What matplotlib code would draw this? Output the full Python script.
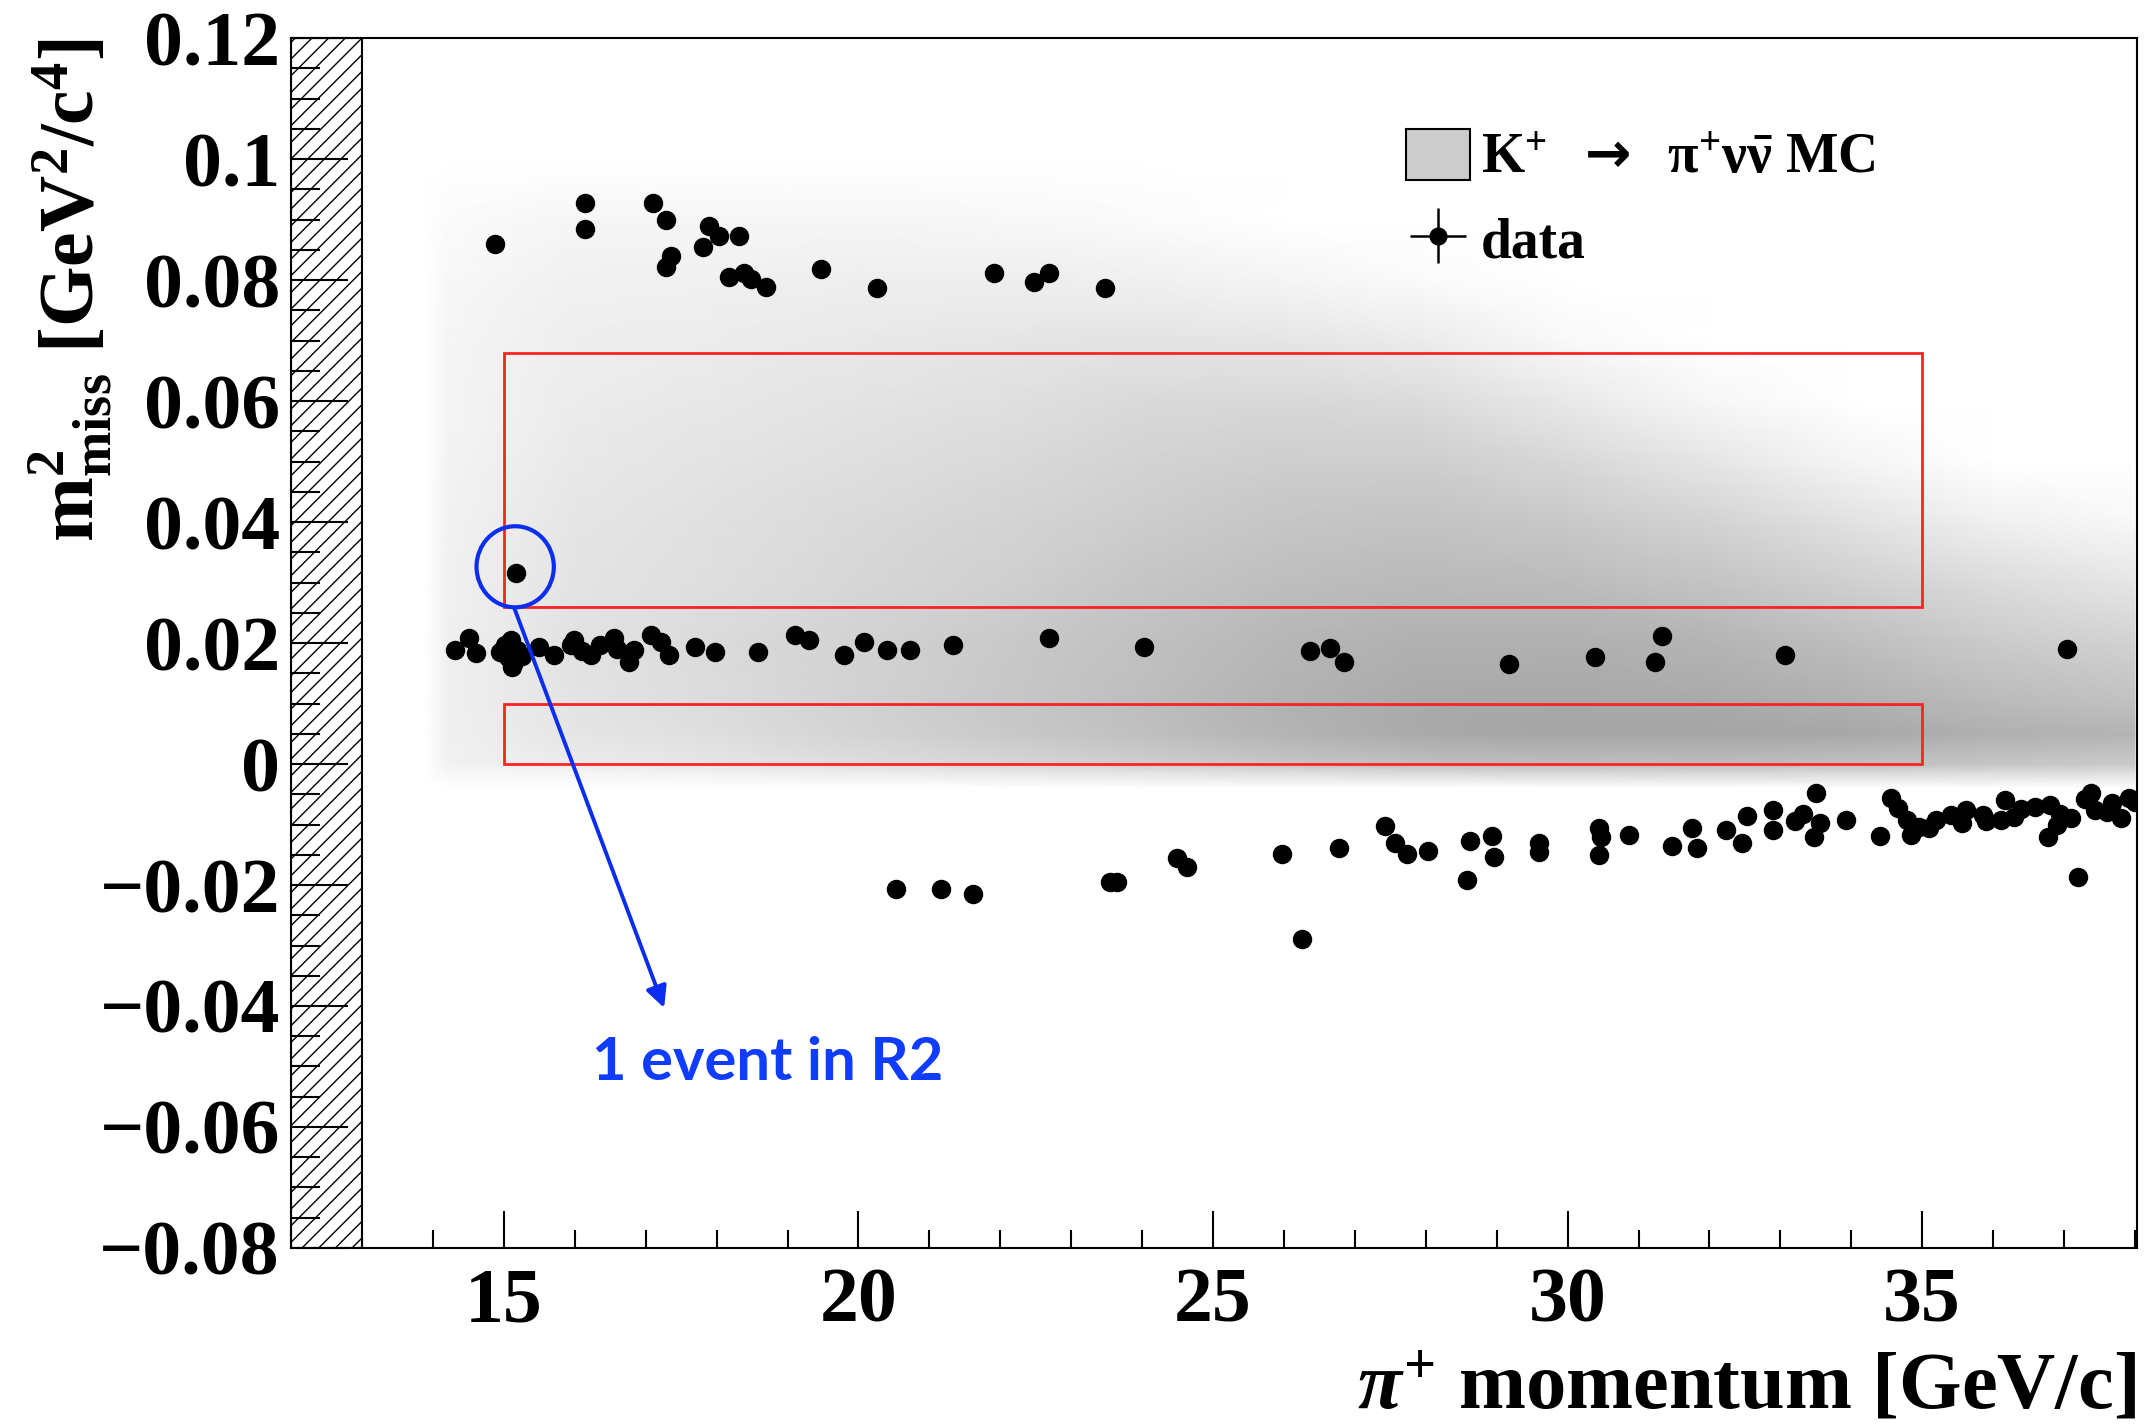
import numpy as np
import matplotlib.pyplot as plt
from matplotlib.patches import Rectangle, Ellipse, Patch
from matplotlib.ticker import MultipleLocator

plt.rcParams['font.family'] = ['Liberation Serif', 'DejaVu Sans']
plt.rcParams['font.weight'] = 'bold'
plt.rcParams['mathtext.fontset'] = 'custom'
plt.rcParams['mathtext.rm'] = 'Liberation Serif:bold'
plt.rcParams['mathtext.it'] = 'Liberation Serif:italic:bold'
plt.rcParams['mathtext.bf'] = 'Liberation Serif:bold'
plt.rcParams['mathtext.sf'] = 'DejaVu Sans'
plt.rcParams['hatch.linewidth'] = 1.0

# ---- MC (K+ -> pi+ nu nubar) grey level (255 = white)
mc_p = [13.9, 14.2, 16, 18, 20, 22, 24, 26, 28, 30, 32, 34, 36, 38]
mc_m2 = [-0.004, -0.001, 0.0, 0.005, 0.01, 0.02, 0.03, 0.04, 0.05, 0.06,
         0.07, 0.08, 0.09, 0.1]
mc_grey = [
    [255, 255, 255, 255, 255, 255, 255, 255, 255, 255, 255, 255, 255, 255],
    [255, 246, 243, 238, 233, 228, 223, 216, 210, 208, 208, 210, 213, 216],
    [255, 242, 236, 230, 222, 215, 207, 198, 192, 190, 190, 193, 198, 203],
    [255, 240, 230, 222, 212, 202, 192, 180, 170, 165, 165, 168, 176, 180],
    [255, 240, 228, 220, 210, 200, 190, 178, 170, 168, 170, 176, 186, 193],
    [255, 240, 226, 219, 210, 202, 193, 183, 176, 176, 180, 190, 203, 210],
    [255, 241, 228, 222, 215, 208, 198, 190, 186, 188, 196, 208, 220, 230],
    [255, 242, 230, 224, 218, 212, 205, 198, 195, 201, 211, 226, 240, 248],
    [255, 244, 233, 228, 223, 218, 211, 206, 206, 216, 230, 245, 255, 255],
    [255, 245, 236, 232, 228, 224, 218, 216, 220, 233, 247, 255, 255, 255],
    [255, 246, 238, 236, 233, 230, 228, 230, 236, 249, 255, 255, 255, 255],
    [255, 248, 241, 240, 238, 238, 240, 245, 251, 255, 255, 255, 255, 255],
    [255, 251, 246, 246, 246, 248, 251, 255, 255, 255, 255, 255, 255, 255],
    [255, 255, 255, 255, 255, 255, 255, 255, 255, 255, 255, 255, 255, 255],
]

# ---- data events: pi+ momentum [GeV/c], m2miss [GeV2/c4]
data_p = [
    # upper group
    14.87, 16.15, 16.15, 17.11, 17.28, 17.36, 17.28, 17.90, 18.03, 17.81,
    18.31, 18.17, 18.38, 18.48, 18.70, 19.47, 20.26, 21.91, 22.47, 22.69,
    23.47,
    # event in R2
    15.17,
    # band near 0.02
    14.31, 14.51, 14.61, 15.02, 15.06, 15.14, 15.18, 15.10, 15.12, 14.95,
    15.25, 15.50, 15.71, 15.95, 15.99, 16.10, 16.23, 16.35, 16.56, 16.60,
    16.76, 16.84, 17.08, 17.21, 17.33, 17.69, 17.98, 18.58, 19.11, 19.31,
    19.80, 20.08, 20.41, 20.73, 21.34, 22.69, 24.03, 26.37, 26.65, 26.85,
    29.18, 30.39, 31.33, 31.23, 33.07, 37.04,
    # band below zero
    20.53, 21.16, 21.62, 23.55, 23.64, 24.49, 24.64, 26.25, 25.97, 26.77,
    27.43, 27.56, 27.74, 28.03, 28.58, 28.62, 28.94, 28.96, 29.59, 29.59,
    30.44, 30.47, 30.44, 30.87, 31.47, 31.75, 31.82, 32.24, 32.46, 32.53,
    32.90, 32.90, 33.20, 33.32, 33.50, 33.56, 33.48, 33.93, 34.41, 34.56,
    34.66, 34.78, 34.84, 34.96, 35.20, 35.56, 35.62, 35.86, 36.17, 36.11,
    36.59, 36.77, 36.95, 37.20, 37.38, 37.44, 37.68, 37.92, 35.10, 35.40,
    35.90, 36.30, 36.40, 36.80, 37.10, 37.60, 37.80, 38.00, 37.30, 36.90,
]
data_m2 = [
    0.0860, 0.0927, 0.0884, 0.0927, 0.0900, 0.0840, 0.0821, 0.0890, 0.0872, 0.0854,
    0.0873, 0.0805, 0.0811, 0.0801, 0.0789, 0.0819, 0.0786, 0.0811, 0.0797, 0.0811,
    0.0786,
    0.0316,
    0.0189, 0.0209, 0.0183, 0.0197, 0.0177, 0.0169, 0.0189, 0.0205, 0.0160, 0.0185,
    0.0178, 0.0193, 0.0181, 0.0197, 0.0205, 0.0187, 0.0181, 0.0197, 0.0209, 0.0190,
    0.0169, 0.0189, 0.0213, 0.0201, 0.0181, 0.0193, 0.0185, 0.0185, 0.0213, 0.0205,
    0.0181, 0.0201, 0.0189, 0.0189, 0.0197, 0.0209, 0.0193, 0.0186, 0.0191, 0.0169,
    0.0165, 0.0177, 0.0212, 0.0169, 0.0180, 0.0190,
    -0.0207, -0.0207, -0.0215, -0.0195, -0.0195, -0.0156, -0.0171, -0.0290, -0.0149, -0.0139,
    -0.0102, -0.0131, -0.0149, -0.0143, -0.0191, -0.0128, -0.0119, -0.0153, -0.0131, -0.0145,
    -0.0106, -0.0120, -0.0150, -0.0117, -0.0136, -0.0106, -0.0139, -0.0109, -0.0131, -0.0086,
    -0.0076, -0.0109, -0.0095, -0.0082, -0.0048, -0.0098, -0.0120, -0.0093, -0.0119, -0.0057,
    -0.0073, -0.0093, -0.0117, -0.0104, -0.0093, -0.0098, -0.0076, -0.0084, -0.0060, -0.0093,
    -0.0071, -0.0120, -0.0082, -0.0186, -0.0048, -0.0076, -0.0065, -0.0057, -0.0105, -0.0085,
    -0.0095, -0.0088, -0.0075, -0.0068, -0.0090, -0.0080, -0.0090, -0.0062, -0.0058, -0.0100,
]

# signal regions (p range, m2 range)
r1 = (15, 35, 0.0, 0.01)
r2 = (15, 35, 0.026, 0.068)

x_ticks = [15, 20, 25, 30, 35]
x_tick_labels = ['15', '20', '25', '30', '35']
y_ticks = [-0.08, -0.06, -0.04, -0.02, 0.0, 0.02, 0.04, 0.06, 0.08, 0.1, 0.12]
y_tick_labels = ['\u22120.08', '\u22120.06', '\u22120.04', '\u22120.02', '0',
                 '0.02', '0.04', '0.06', '0.08', '0.1', '0.12']

fig = plt.figure(figsize=(21.45, 14.24), dpi=100)
ax = fig.add_axes([0.1357, 0.1236, 0.8606, 0.8497])

ax.pcolormesh(mc_p, mc_m2, np.array(mc_grey), shading='gouraud',
              cmap='gray', vmin=0, vmax=255, zorder=0)

# excluded (hatched) momentum region
ax.add_patch(Rectangle((12, -0.08), 1, 0.2, facecolor='white', edgecolor='black',
                       hatch='//', lw=1.5, zorder=1))

for reg in (r1, r2):
    ax.add_patch(Rectangle((reg[0], reg[2]), reg[1] - reg[0], reg[3] - reg[2],
                           fill=False, edgecolor='#ff2222', lw=2.0, zorder=3))

ax.plot(data_p, data_m2, 'o', color='black', ms=13, zorder=4)

# annotation for the R2 event
blue = '#0a2df0'
ax.add_patch(Ellipse((15.16, 0.0326), 1.09, 0.0134, fill=False, edgecolor=blue,
                     lw=3, zorder=5))
ax.annotate('', xy=(17.26, -0.0403), xytext=(15.15, 0.0257),
            arrowprops=dict(arrowstyle='-|>', color=blue, lw=2.8,
                            mutation_scale=32, shrinkA=0, shrinkB=0), zorder=5)
ax.text(18.72, -0.0495, '1 event in R2', color='#0f3cff', fontsize=43,
        fontweight='bold', family=['Lato', 'DejaVu Sans'], ha='center', va='center')

ax.set_xlim(12, 38.03)
ax.set_ylim(-0.08, 0.12)
ax.set_xticks(x_ticks)
ax.set_xticklabels(x_tick_labels)
ax.set_yticks(y_ticks)
ax.set_yticklabels(y_tick_labels)
ax.xaxis.set_minor_locator(MultipleLocator(1))
ax.yaxis.set_minor_locator(MultipleLocator(0.005))
ax.tick_params(axis='both', which='both', direction='in', top=False, right=False,
               labelsize=56, width=1.5)
ax.tick_params(axis='x', which='major', length=27, pad=14)
ax.tick_params(axis='x', which='minor', length=13)
ax.tick_params(axis='y', which='major', length=41, pad=8)
ax.tick_params(axis='y', which='minor', length=21)
for s in ax.spines.values():
    s.set_linewidth(1.5)

# legend
eb = ax.errorbar([np.nan], [np.nan], xerr=[1], yerr=[1], fmt='o', color='black',
                 ms=12, lw=1.8)
handles = [Patch(facecolor='#cccccc', edgecolor='black', lw=1.5), eb]
labels = [r'K$^{+}$  $\mathsf{\rightarrow}$  $\mathrm{\pi}^{+}\mathrm{\nu}\bar{\mathrm{\nu}}$ MC',
          'data']
ax.legend(handles, labels, loc='upper left', bbox_to_anchor=(0.589, 0.948),
          frameon=False, fontsize=40, borderpad=0, handlelength=1.15,
          handleheight=1.05, handletextpad=0.2, labelspacing=0.5)

fig.text(0.033, 0.973, r'$\mathrm{m}^{2}_{\mathrm{miss}}$ [GeV$^{2}$/c$^{4}$]',
         rotation=90, ha='center', va='top', fontsize=56)
fig.text(0.996, 0.011, r'$\pi^{+}$ momentum [GeV/c]', ha='right', va='baseline',
         fontsize=58)

fig.savefig('out.png', dpi=100)
